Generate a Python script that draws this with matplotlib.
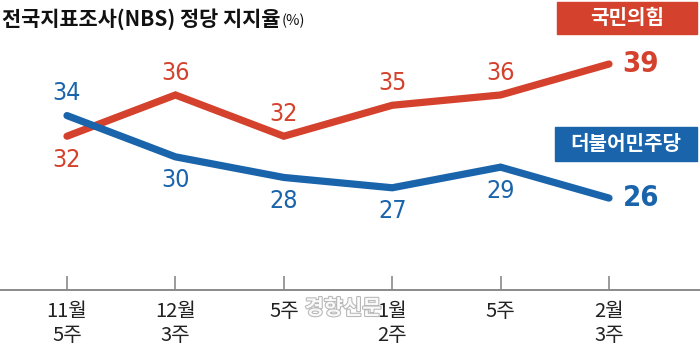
import matplotlib
matplotlib.use("Agg")
import matplotlib.pyplot as plt
import matplotlib.patheffects as pe
from matplotlib.patches import Rectangle
from matplotlib import font_manager as fm

plt.rcParams['font.family'] = ['Noto Sans CJK KR', 'DejaVu Sans']

# ---- data ----
periods = ["11월\n5주", "12월\n3주", "5주", "1월\n2주", "5주", "2월\n3주"]
ppp = [32, 36, 32, 35, 36, 39]          # 국민의힘
dpk = [34, 30, 28, 27, 29, 26]          # 더불어민주당
series_names = ["국민의힘", "더불어민주당"]
title = "전국지표조사(NBS) 정당 지지율"
unit = "(%)"

RED = "#D4412C"
BLUE = "#1A64AC"

names = {f.name for f in fm.fontManager.ttflist}
cond = [f for f in fm.fontManager.ttflist if 'Condensed' in f.fname or 'Narrow' in f.fname]
print(sorted({(f.name, f.stretch, f.weight) for f in cond}))
NUMFONT = ['DejaVu Sans']

W, H = 700, 351
fig = plt.figure(figsize=(W / 100, H / 100), dpi=100)
ax = fig.add_axes([0, 0, 1, 1])
ax.set_axis_off()

step = 108.4
x0px = 67
ax.set_xlim(-x0px / step, (W - x0px) / step)
ax.set_ylim(11.17, 45.21)

xs = list(range(len(periods)))

base = 17.08
tick_top = 18.44
ax.axhline(base, color="#8a8a8a", lw=1.4, zorder=1)
ax.vlines(xs, base, tick_top, color="#8a8a8a", lw=1.2, zorder=1)

for vals, col in [(ppp, RED), (dpk, BLUE)]:
    ax.plot(xs, vals, color=col, lw=5.2, solid_capstyle='round',
            solid_joinstyle='miter', zorder=3)

ppp_pos = ['below', 'above', 'above', 'above', 'above', 'right']
dpk_pos = ['above', 'below', 'below', 'below', 'below', 'right']

def label(vals, pos, col):
    for i, (v, p) in enumerate(zip(vals, pos)):
        if p == 'above':
            off, size, w = (0, 16), 18, 'normal'
        elif p == 'below':
            off, size, w = (0, -17), 18, 'normal'
        else:
            off, size, w = (23, 0), 21, 'bold'
        ax.annotate(str(v), (i, v), xytext=off, textcoords='offset points',
                    ha='center', va='center', color=col, fontsize=size,
                    fontweight=w, family=NUMFONT, fontstretch='condensed', zorder=4)

label(ppp, ppp_pos, RED)
label(dpk, dpk_pos, BLUE)

for i, lab in enumerate(periods):
    ax.annotate(lab, (i, base), xytext=(0, -8), textcoords='offset points',
                ha='center', va='top', fontsize=14.5, color="#222222",
                linespacing=1.2, zorder=4)

def box(x0, y0, x1, y1, col, text):
    fig.patches.append(Rectangle((x0 / W, 1 - y1 / H), (x1 - x0) / W, (y1 - y0) / H,
                                 transform=fig.transFigure, color=col, zorder=5))
    fig.text((x0 + x1) / 2 / W, 1 - (y0 + y1) / 2 / H, text, ha='center',
             va='center', color='white', fontsize=14.5, fontweight='bold', zorder=6)

box(557, 2, 697, 34, RED, series_names[0])
box(555, 127, 697, 161, BLUE, series_names[1])

t = fig.text(2 / W, 1 - 19 / H, title, ha='left', va='center', fontsize=15,
             fontweight='bold', color='#111111')
fig.canvas.draw()
bb = t.get_window_extent()
fig.text((bb.x1 + 1) / W, 1 - 21 / H, unit, ha='left', va='center',
         fontsize=10.5, color='#111111')

fig.text(343 / W, 1 - 308 / H, "경향신문", ha='center', va='center', fontsize=15,
         fontweight='bold', color='white', alpha=0.9, zorder=7,
         path_effects=[pe.withStroke(linewidth=1.5, foreground='#b0b0b0')])

fig.savefig("out.png", dpi=100)
